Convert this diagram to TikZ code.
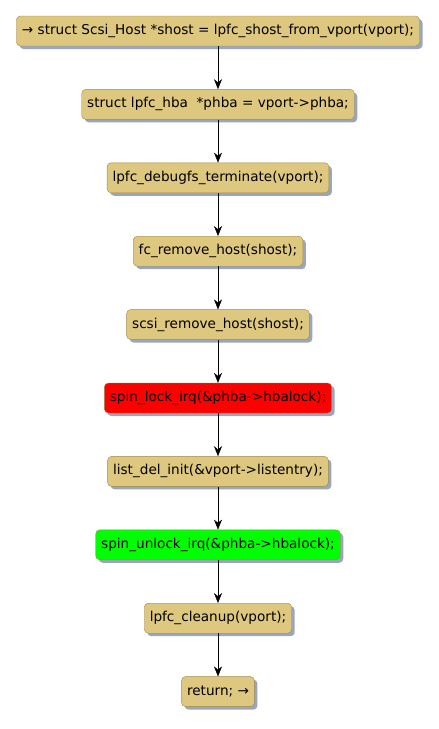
\documentclass[tikz,border=0pt]{standalone}
\usepackage{fontspec}
\setmainfont{DejaVu Sans}
\usetikzlibrary{arrows.meta,positioning,shadows}
\definecolor{ActTan}{HTML}{DEC77E}
\definecolor{ActEdge}{HTML}{9E8A4A}
\definecolor{ActShade}{HTML}{9AA6BC}
\definecolor{ActLock}{HTML}{FF0000}
\definecolor{ActUnlock}{HTML}{00FF00}

\begin{document}
\begin{tikzpicture}[
  x=1pt, y=1pt,
  node distance=43pt,
  action/.style={draw=ActEdge, fill=ActTan, rounded corners=4pt, minimum height=30pt, inner xsep=5.5pt, inner ysep=1pt,
    font=\fontsize{13.6}{15}\selectfont, text=black,
    drop shadow={shadow xshift=3pt, shadow yshift=-3pt, fill=ActShade, opacity=1}},
  flow/.style={-{Stealth[length=10pt,width=8pt]}, draw=black}
]
\useasboundingbox (0,0) rectangle (439,-729);
\node[action] (host) at (218,-31) {→ struct Scsi\_Host *shost = lpfc\_shost\_from\_vport(vport);};
\node[action, below=of host] (hba) {struct lpfc\_hba\ \ *phba = vport->phba;};
\node[action, below=of hba] (dbg) {lpfc\_debugfs\_terminate(vport);};
\node[action, below=of dbg] (fcrm) {fc\_remove\_host(shost);};
\node[action, below=of fcrm] (scsirm) {scsi\_remove\_host(shost);};
\node[action, fill=ActLock, below=of scsirm] (lock) {spin\_lock\_irq(\&phba->hbalock);};
\node[action, below=of lock] (del) {list\_del\_init(\&vport->listentry);};
\node[action, fill=ActUnlock, below=of del] (unlock) {spin\_unlock\_irq(\&phba->hbalock);};
\node[action, below=of unlock] (clean) {lpfc\_cleanup(vport);};
\node[action, below=of clean] (ret) {return; →};
\draw[flow] (host) -- (hba);
\draw[flow] (hba) -- (dbg);
\draw[flow] (dbg) -- (fcrm);
\draw[flow] (fcrm) -- (scsirm);
\draw[flow] (scsirm) -- (lock);
\draw[flow] (lock) -- (del);
\draw[flow] (del) -- (unlock);
\draw[flow] (unlock) -- (clean);
\draw[flow] (clean) -- (ret);
\end{tikzpicture}
\end{document}
